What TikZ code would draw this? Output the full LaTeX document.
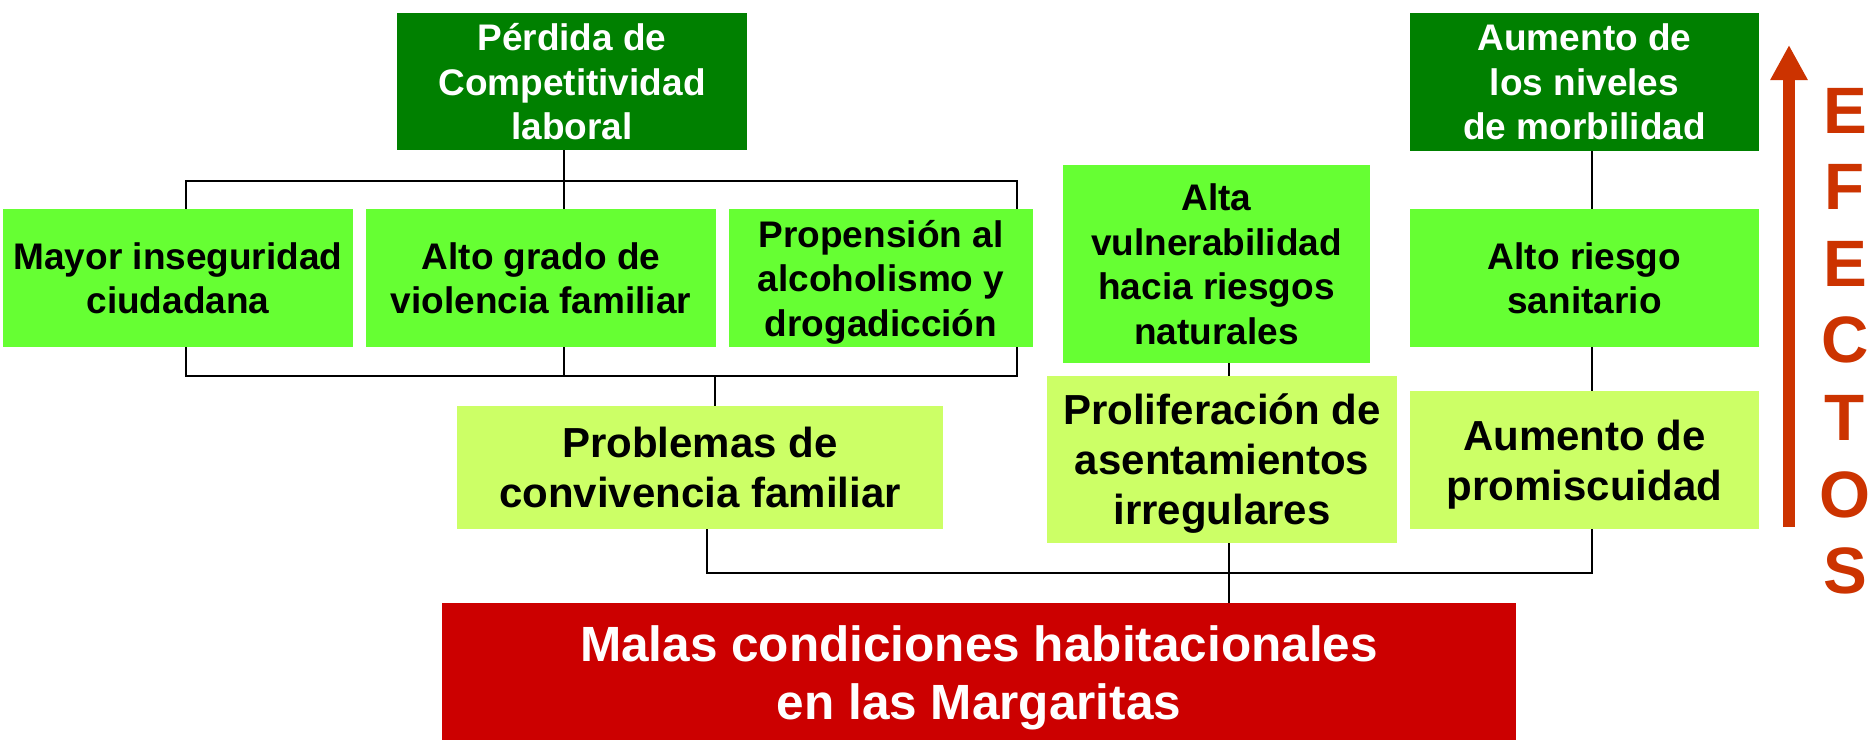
\documentclass[tikz,border=0pt]{standalone}
\usepackage{fontspec}
\setmainfont{Liberation Sans}
\usetikzlibrary{arrows.meta}
\definecolor{dgreen}{HTML}{008000}
\definecolor{bgreen}{HTML}{66FF33}
\definecolor{lgreen}{HTML}{CCFF66}
\definecolor{dred}{HTML}{CC0000}
\definecolor{arrred}{HTML}{CC3300}
\tikzset{
  box/.style={draw=none, inner sep=0pt, align=center,
    font=\bfseries\fontsize{37}{44.5}\selectfont, text depth=-2pt},
  topbox/.style={box, fill=dgreen, text=white},
  midbox/.style={box, fill=bgreen, text=black},
  lowbox/.style={box, fill=lgreen, text=black, font=\bfseries\fontsize{42}{50}\selectfont, text depth=-1pt},
  rootbox/.style={box, fill=dred, text=white, font=\bfseries\fontsize{49.5}{58}\selectfont, text depth=1pt},
  link/.style={draw=black, line width=1.6pt},
  letter/.style={inner sep=0pt, anchor=base, text=arrred, font=\bfseries\fontsize{65.6}{70}\selectfont},
}
\begin{document}
\begin{tikzpicture}[x=1pt,y=-1pt]
\clip (0,0) rectangle (1874,739);
\fill[white] (0,0) rectangle (1874,739);

% boxes
\node[topbox, minimum width=350pt, minimum height=137pt] (perd) at (572,81.5) {Pérdida de\\Competitividad\\laboral};
\node[topbox, minimum width=349pt, minimum height=138pt] (aumn) at (1584.5,82) {Aumento de\\los niveles\\de morbilidad};
\node[midbox, minimum width=350pt, minimum height=138pt] (may) at (178,278) {Mayor inseguridad\\ciudadana};
\node[midbox, minimum width=350pt, minimum height=138pt] (alto) at (541,278) {Alto grado de\\violencia familiar};
\node[midbox, minimum width=304pt, minimum height=138pt] (prop) at (881,278) {Propensión al\\alcoholismo y\\drogadicción};
\node[midbox, minimum width=307pt, minimum height=198pt] (vuln) at (1216.5,264) {Alta\\vulnerabilidad\\hacia riesgos\\naturales};
\node[midbox, minimum width=349pt, minimum height=138pt] (riesgo) at (1584.5,278) {Alto riesgo\\sanitario};
\node[lowbox, minimum width=486pt, minimum height=123pt] (prob) at (700,467.5) {Problemas de\\convivencia familiar};
\node[lowbox, minimum width=350pt, minimum height=167pt] (prol) at (1222,459.5) {Proliferación de\\asentamientos\\irregulares};
\node[lowbox, minimum width=349pt, minimum height=138pt] (prom) at (1584.5,460) {Aumento de\\promiscuidad};
\node[rootbox, minimum width=1074pt, minimum height=140pt] (malas) at (979,673) {Malas condiciones habitacionales\\en las Margaritas};

% connector helper coordinates
\coordinate (t1) at (186,181);
\coordinate (t2) at (564,181);
\coordinate (t3) at (1017,181);
\coordinate (b1) at (186,376);
\coordinate (b2) at (564,376);
\coordinate (b3) at (1017,376);
\coordinate (b4) at (715,376);
\coordinate (v1) at (1229,376);
\coordinate (m1) at (707,573);
\coordinate (m2) at (1229,573);
\coordinate (m3) at (1592,573);

% connectors
\draw[link] (may.north -| t1) -- (t1) -- (t3) -- (prop.north -| t3);
\draw[link] (perd.south -| t2) -- (alto.north -| t2);
\draw[link] (may.south -| b1) -- (b1) -- (b3) -- (prop.south -| b3);
\draw[link] (alto.south -| b2) -- (b2);
\draw[link] (b4) -- (prob.north -| b4);
\draw[link] (vuln.south -| v1) -- (prol.north -| v1);
\draw[link] (aumn.south -| m3) -- (riesgo.north -| m3);
\draw[link] (riesgo.south -| m3) -- (prom.north -| m3);
\draw[link] (prob.south -| m1) -- (m1) -- (m3) -- (prom.south -| m3);
\draw[link] (prol.south -| m2) -- (malas.north -| m2);

% EFECTOS arrow
\coordinate (arrB) at (1789,527);
\coordinate (arrT) at (1789,45);
\draw[arrred, line width=12pt, -{Triangle[width=35pt,length=35pt]}] (arrB) -- (arrT);

\foreach \ch/\yy [count=\i] in {E/133,F/209,E/286,C/362,T/440,O/517,S/593}
  \node[letter] (ef\i) at (1845,\yy) {\ch};
\end{tikzpicture}
\end{document}
